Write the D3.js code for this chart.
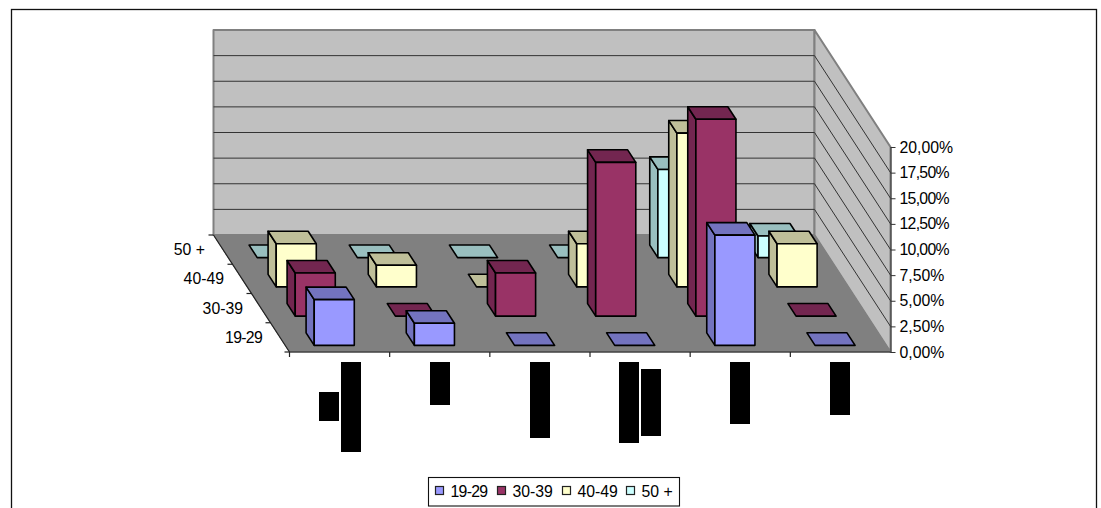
<!DOCTYPE html>
<meta charset="utf-8">
<style>
    body { margin: 0; background: #fff; }
    svg { display: block; }
    text { font-family: "Liberation Sans", Arial, sans-serif; font-size: 15.8px; fill: #000; }
    .axis--z path { stroke: #333; }
    .axis--z line { stroke: #333; }
    .axis--z text { font-family: "Liberation Sans", Arial, sans-serif; font-size: 15.8px; fill: #000; }
</style>
<svg width="1101" height="508"></svg>
<script src="https://d3js.org/d3.v7.min.js"></script>
<script>

    var ageGroups = ["19-29", "30-39", "40-49", "50 +"];
    var categories = ["c1", "c2", "c3", "c4", "c5", "c6"];

    var values1929 = [4.46, 2.15, 0, 0, 10.75, 0];
    var values3039 = [4.2, 0, 4.2, 15, 19.2, 0];
    var values4049 = [4.2, 2.1, 0, 4.2, 15, 4.2];
    var values50 = [0, 0, 0, 0, 8.6, 2.1];

    var seriesValues = [values1929, values3039, values4049, values50];
    var zTicks = [0, 2.5, 5, 7.5, 10, 12.5, 15, 17.5, 20];

    // category labels are blacked out in the picture: each one is [start, length] per text line
    var hiddenLabels = [
        [[30, 29], [0, 90]],
        [[0, 43]],
        [[0, 76]],
        [[0, 81], [7, 67]],
        [[0, 62]],
        [[0, 53]]
    ];

    var frontColors = ["#9999FF", "#993366", "#FFFFCC", "#CCFFFF"];
    var shadeColors = ["#7373BF", "#732650", "#BFBF99", "#99BFBF"];

    var svg = d3.select("svg"),
        left = 289.5, right = 890.5, floorY = 352, topY = 147,
        depthX = 76, depthY = 117;

    var x = d3.scaleBand().domain(categories).range([left, right]),
        depth = d3.scaleBand().domain(ageGroups).range([0, 1]),
        z = d3.scaleLinear().domain([0, 20]).range([floorY, topY]);

    // oblique projection: front x, depth 0..1, value
    function pt(px, d, v) {
        return [px - depthX * d, z(v) - depthY * d];
    }

    function poly(points, fill, stroke, width) {
        return svg.append("polygon")
            .attr("points", points.join(" "))
            .attr("fill", fill)
            .attr("stroke", stroke)
            .attr("stroke-width", width)
            .attr("stroke-linejoin", "round");
    }

    // the wide hinted "1" of the original font is narrower than Liberation's
    function squeeze(label) {
        return label.charAt(0) === "1" ? "-0.7px" : null;
    }

    // outer frame, open at the bottom edge of the picture
    svg.append("rect")
        .attr("x", 11.5).attr("y", 9.5)
        .attr("width", 1085).attr("height", 520)
        .attr("fill", "#fff").attr("stroke", "#111").attr("stroke-width", 1.3);

    // walls and floor
    poly([pt(left, 1, 0), pt(right, 1, 0), pt(right, 1, 20), pt(left, 1, 20)], "#C0C0C0", "#808080", 2);
    poly([pt(right, 1, 0), pt(right, 0, 0), pt(right, 0, 20), pt(right, 1, 20)], "#C0C0C0", "#808080", 2);
    poly([pt(left, 0, 0), pt(right, 0, 0), pt(right, 1, 0), pt(left, 1, 0)], "#808080", "#808080", 1);

    zTicks.slice(1, -1).forEach(function(t) {
        var a = pt(left, 1, t), b = pt(right, 1, t), c = pt(right, 0, t);
        svg.append("polyline")
            .attr("points", [a, b, c].join(" "))
            .attr("fill", "none")
            .attr("stroke", "#333")
            .attr("stroke-width", 1);
    });

    // floor edges and ticks
    var edge = svg.append("g").attr("stroke", "#222").attr("stroke-width", 1.2);
    edge.append("line")
        .attr("x1", left).attr("y1", floorY)
        .attr("x2", right).attr("y2", floorY);
    var back = pt(left, 1, 0);
    edge.append("line")
        .attr("x1", left).attr("y1", floorY)
        .attr("x2", back[0]).attr("y2", back[1]);

    categories.forEach(function(c) {
        edge.append("line")
            .attr("x1", x(c)).attr("y1", floorY)
            .attr("x2", x(c)).attr("y2", floorY + 5);
    });

    [0, 0.25, 0.5, 0.75, 1].forEach(function(d) {
        var p = pt(left, d, 0);
        edge.append("line")
            .attr("x1", p[0]).attr("y1", p[1])
            .attr("x2", p[0] - 5).attr("y2", p[1]);
    });

    // bars, back row first so the front ones cover them
    var rowInset = 0.057, rowDepth = 0.107, barStart = 0.29, barEnd = 0.69, barLine = 1.6;

    d3.range(ageGroups.length - 1, -1, -1).forEach(function(s) {
        categories.forEach(function(c, i) {
            var v = seriesValues[s][i],
                d0 = depth(ageGroups[s]) + rowInset,
                d1 = d0 + rowDepth,
                x0 = x(c) + barStart * x.bandwidth(),
                x1 = x(c) + barEnd * x.bandwidth();

            if (v > 0) {
                poly([pt(x0, d0, 0), pt(x0, d1, 0), pt(x0, d1, v), pt(x0, d0, v)], shadeColors[s], "#000", barLine);
            }
            poly([pt(x0, d0, v), pt(x0, d1, v), pt(x1, d1, v), pt(x1, d0, v)], shadeColors[s], "#000", barLine);
            if (v > 0) {
                poly([pt(x0, d0, 0), pt(x1, d0, 0), pt(x1, d0, v), pt(x0, d0, v)], frontColors[s], "#000", barLine);
            }
        });
    });

    // value axis
    var axisG = svg.append("g")
        .attr("class", "axis axis--z")
        .attr("transform", "translate(" + right + ",0)")
        .call(d3.axisRight(z)
            .tickValues(zTicks)
            .tickSize(5)
            .tickSizeOuter(0)
            .tickPadding(4)
            .tickFormat(function(t) { return t.toFixed(2).replace(".", ",") + "%"; }));

    axisG.selectAll("text")
        .style("letter-spacing", function() { return squeeze(d3.select(this).text()); });

    // row labels
    ageGroups.forEach(function(a) {
        var p = pt(left, depth(a) + depth.bandwidth() / 2, 0);
        svg.append("text")
            .attr("x", p[0] - 18)
            .attr("y", p[1])
            .attr("dy", "0.35em")
            .attr("text-anchor", "end")
            .style("letter-spacing", squeeze(a))
            .text(a);
    });

    // blacked out category labels
    var lineWidth = 20, lineGap = 2, labelTop = 362;
    categories.forEach(function(c, i) {
        var lines = hiddenLabels[i],
            total = lines.length * lineWidth + (lines.length - 1) * lineGap,
            start = x(c) + x.bandwidth() / 2 - total / 2;
        lines.forEach(function(l, j) {
            svg.append("rect")
                .attr("x", Math.round(start + j * (lineWidth + lineGap)))
                .attr("y", labelTop + l[0])
                .attr("width", lineWidth)
                .attr("height", l[1])
                .attr("fill", "#000");
        });
    });

    // legend
    var legendX = [435, 497, 562, 626];
    svg.append("rect")
        .attr("x", 428.5).attr("y", 477.5)
        .attr("width", 251).attr("height", 28.5)
        .attr("fill", "#fff").attr("stroke", "#111").attr("stroke-width", 1.1);

    ageGroups.forEach(function(a, i) {
        svg.append("rect")
            .attr("x", legendX[i] + 0.5).attr("y", 486.5)
            .attr("width", 8).attr("height", 8)
            .attr("fill", frontColors[i]).attr("stroke", "#222").attr("stroke-width", 1.2);
        svg.append("text")
            .attr("x", legendX[i] + 15.5)
            .attr("y", 491)
            .attr("dy", "0.35em")
            .style("letter-spacing", squeeze(a))
            .text(a);
    });
</script>
